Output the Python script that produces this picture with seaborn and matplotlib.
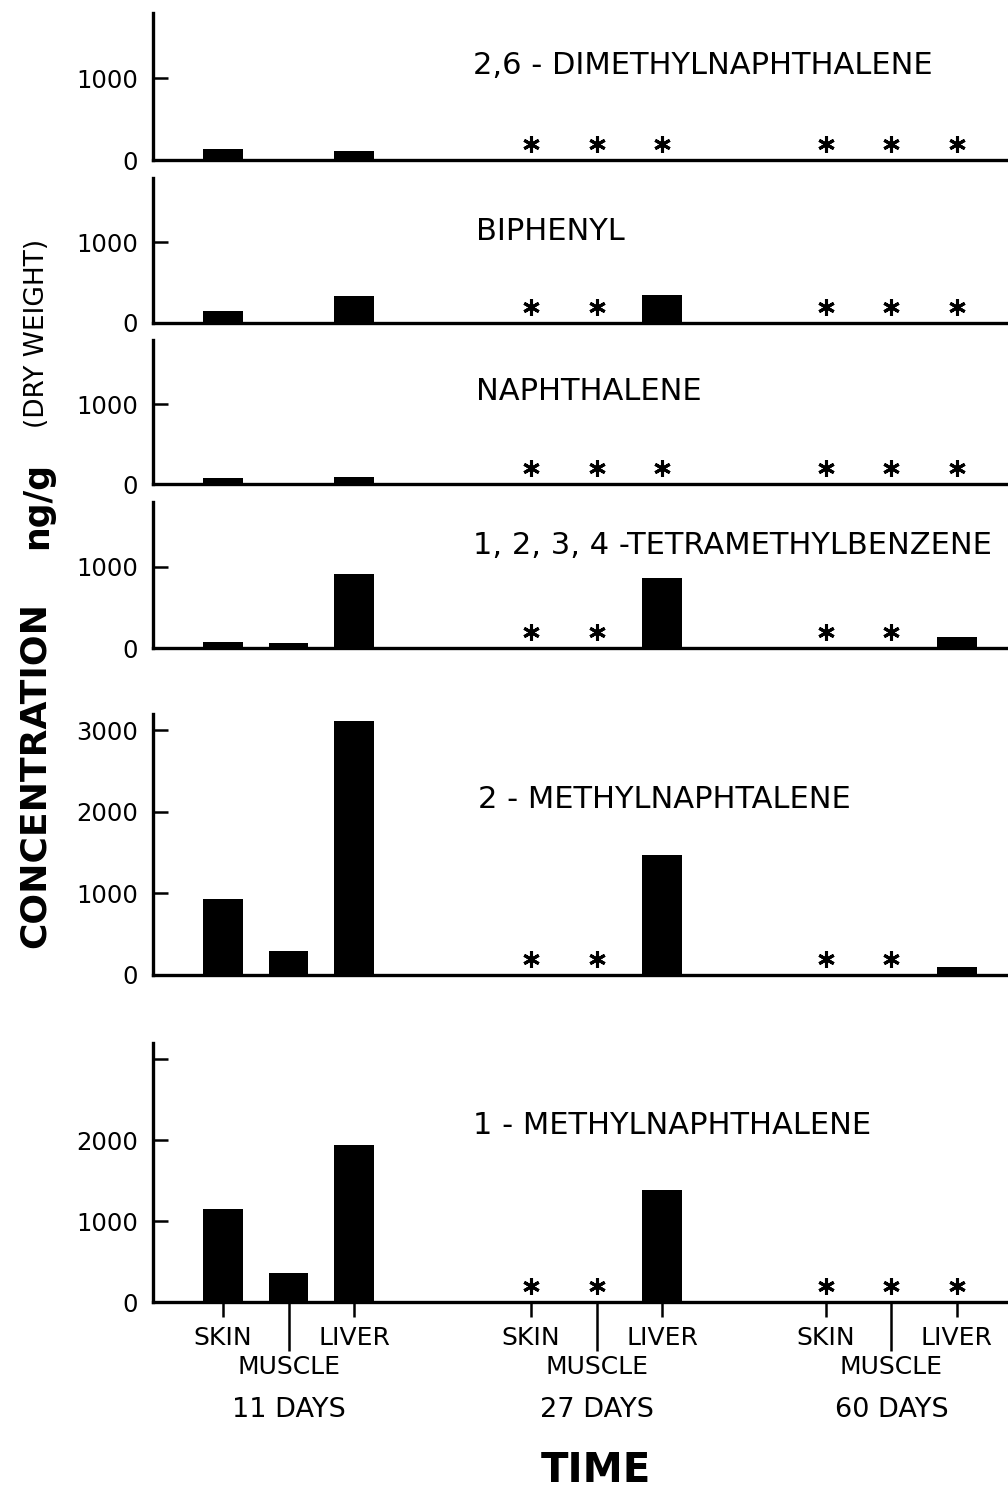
import numpy as np
import pandas as pd
import matplotlib
matplotlib.use("Agg")
import matplotlib.pyplot as plt
import matplotlib.transforms as mtransforms
import seaborn as sns

# ---- data -------------------------------------------------------------
tissues = ["SKIN", "MUSCLE", "LIVER"]
days = ["11 DAYS", "27 DAYS", "60 DAYS"]

compounds = [
    "2,6 - DIMETHYLNAPHTHALENE",
    "BIPHENYL",
    "NAPHTHALENE",
    "1, 2, 3, 4 -TETRAMETHYLBENZENE",
    "2 - METHYLNAPHTALENE",
    "1 - METHYLNAPHTHALENE",
]

nan = np.nan
# ng/g dry weight; order: 11d skin/muscle/liver, 27d ..., 60d ...
# NaN = not detected (marked with *)
dimethylnaphthalene_26 = [135, 0, 110, nan, nan, nan, nan, nan, nan]
biphenyl = [150, 0, 330, nan, nan, 350, nan, nan, nan]
naphthalene = [75, 0, 90, nan, nan, nan, nan, nan, nan]
tetramethylbenzene = [70, 60, 915, nan, nan, 860, nan, nan, 130]
methylnaphthalene_2 = [930, 300, 3110, nan, nan, 1470, nan, nan, 100]
methylnaphthalene_1 = [1150, 360, 1940, nan, nan, 1380, nan, nan, nan]

series = [dimethylnaphthalene_26, biphenyl, naphthalene,
          tetramethylbenzene, methylnaphthalene_2, methylnaphthalene_1]

# ---- layout -----------------------------------------------------------
W, H = 1008, 1489
group_offsets = [0.0, 4.7, 9.2]
positions = [g + t for g in group_offsets for t in range(3)]

# (top px, baseline px, ymax, yticks, yticklabels, title x px, title y px)
panel_layout = [
    (13, 160, 1800, [0, 1000], ["0", "1000"], 473, 65),
    (178, 323, 1800, [0, 1000], ["0", "1000"], 476, 231),
    (340, 484, 1800, [0, 1000], ["0", "1000"], 476, 392),
    (502, 648, 1800, [0, 1000], ["0", "1000"], 473, 546),
    (714, 975, 3200, [0, 1000, 2000, 3000], ["0", "1000", "2000", "3000"], 478, 799),
    (1043, 1302, 3200, [0, 1000, 2000, 3000], ["0", "1000", "2000", ""], 473, 1126),
]
left_px, right_px = 153, 1008

sns.set_style("ticks")
plt.rcParams["font.family"] = ["DejaVu Sans"]
plt.rcParams.update({
    "axes.linewidth": 2.4,
    "axes.edgecolor": "black",
    "text.color": "black",
    "axes.labelcolor": "black",
    "xtick.color": "black",
    "ytick.color": "black",
})

fig = plt.figure(figsize=(W / 100, H / 100), dpi=100)
nd_offset = mtransforms.ScaledTranslation(0, 0.16, fig.dpi_scale_trans)

axes = []
for i, (vals, name, lay) in enumerate(zip(series, compounds, panel_layout)):
    top, base, ymax, yt, ytl, tx, ty = lay
    ax = fig.add_axes([left_px / W, 1 - base / H,
                       (right_px - left_px) / W, (base - top) / H])
    axes.append(ax)
    df = pd.DataFrame({"pos": positions, "value": vals})
    detected = df.dropna()
    sns.barplot(data=detected, x="pos", y="value", native_scale=True,
                color="black", saturation=1, width=0.6, errorbar=None,
                linewidth=0, ax=ax)
    not_detected = df[df["value"].isna()]
    ax.plot(not_detected["pos"], np.zeros(len(not_detected)),
            linestyle="none", marker=(6, 2, 0), markersize=12, mew=2.2,
            color="black", transform=ax.transData + nd_offset, clip_on=False)

    sns.despine(ax=ax)
    ax.set_xlim(-1.07, 11.98)
    ax.set_ylim(0, ymax)
    ax.set_yticks(yt, labels=ytl)
    ax.tick_params(axis="y", direction="in", length=11, width=1.8, pad=11,
                   labelsize=17.5)
    ax.set_xlabel("")
    ax.set_ylabel("")
    ax.set_facecolor("white")

    fig.text(tx / W, 1 - ty / H, name, fontsize=22, ha="left", va="center")

    if i < len(series) - 1:
        ax.set_xticks([])
    else:
        major_pos = [g + t for g in group_offsets for t in (0, 2)]
        major_lab = [tissues[t] for g in group_offsets for t in (0, 2)]
        minor_pos = [g + 1 for g in group_offsets]
        ax.set_xticks(major_pos, labels=major_lab)
        ax.set_xticks(minor_pos, labels=[tissues[1]] * 3, minor=True)
        ax.tick_params(axis="x", which="major", direction="out", length=11,
                       width=1.8, pad=6, labelsize=18)
        ax.tick_params(axis="x", which="minor", direction="out", length=35,
                       width=1.8, pad=3, labelsize=18)
        for mp, d in zip(minor_pos, days):
            ax.annotate(d, xy=(mp, 0), xycoords="data", xytext=(0, -78),
                        textcoords="offset points", ha="center", va="center",
                        fontsize=19.5, annotation_clip=False)

# ---- axis titles --------------------------------------------------------
fig.text(35 / W, 1 - 775 / H, "CONCENTRATION", rotation=90, fontsize=26,
         fontweight="bold", ha="center", va="center")
fig.text(37 / W, 1 - 505 / H, "ng/g", rotation=90, fontsize=25,
         fontweight="bold", ha="center", va="center")
fig.text(37 / W, 1 - 333 / H, "(DRY WEIGHT)", rotation=90, fontsize=19,
         ha="center", va="center")
fig.text(596 / W, 1 - 1471 / H, "TIME", fontsize=29, fontweight="bold",
         ha="center", va="center")

fig.savefig("out.png", dpi=100, facecolor="white")
